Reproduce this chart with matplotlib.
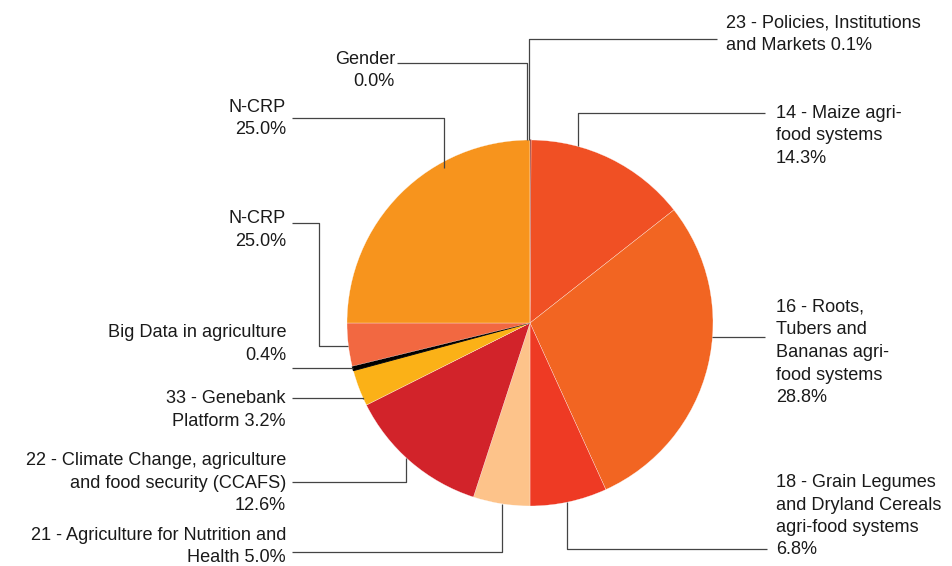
import numpy as np
import matplotlib.pyplot as plt

plt.rcParams['font.family'] = ['Liberation Sans', 'DejaVu Sans']

# slices, clockwise from 12 o'clock
names = ["23 - Policies, Institutions\nand Markets",
         "14 - Maize agri-\nfood systems",
         "16 - Roots,\nTubers and\nBananas agri-\nfood systems",
         "18 - Grain Legumes\nand Dryland Cereals\nagri-food systems",
         "21 - Agriculture for Nutrition and\nHealth",
         "22 - Climate Change, agriculture\nand food security (CCAFS)",
         "33 - Genebank\nPlatform",
         "Big Data in agriculture",
         "N-CRP",
         "N-CRP",
         "Gender"]
shares = [0.1, 14.3, 28.8, 6.8, 5.0, 12.6, 3.2, 0.4, 3.8, 25.0, 0.0]
shown_pct = [0.1, 14.3, 28.8, 6.8, 5.0, 12.6, 3.2, 0.4, 25.0, 25.0, 0.0]
pct_sep = [" ", "\n", "\n", "\n", " ", "\n", " ", "\n", "\n", "\n", "\n"]
colors = ["#8c1d13", "#f05024", "#f26522", "#ee3a24", "#fdc38a", "#d2232a",
          "#fbb117", "#000000", "#f26841", "#f7941d", "#999999"]

# label layout (pixels): side, text x, first baseline, leader y, leader start x,
# connector angle on the pie, radius factor, optional extra bend x
layout = [
    ("L", 726, 27, 39, 717, -90.3, 1.0, None),
    ("L", 776, 118, 113, 765, -74.7, 1.0, None),
    ("L", 776, 312, 337, 765, 4.4, 1.0, None),
    ("L", 776, 487, 549, 767, 78.3, 1.0, None),
    ("R", 286, 540, 552, 292, 98.9, 1.0, None),
    ("R", 286, 465, 482, 292, 132.5, 1.0, None),
    ("R", 286, 403, 398, 292, 155.6, 1.0, None),
    ("R", 286, 337, 368, 292, 165.7, 1.0, None),
    ("R", 286, 223, 223, 292, 172.7, 1.0, 319),
    ("R", 286, 112, 118, 292, -119.0, 0.97, None),
    ("R", 395, 64, 63, 397, -90.9, 1.0, None),
]

cx, cy, r = 530, 323, 183
line_h = 22.5

fig = plt.figure(figsize=(9.52, 5.66), dpi=100)
ax = fig.add_axes([0, 0, 1, 1])

# y axis is inverted, so increasing angle runs clockwise on screen
wedges, _ = ax.pie(shares, colors=colors, startangle=-90, counterclock=True,
                   center=(cx, cy), radius=r,
                   wedgeprops=dict(edgecolor='#ffffff', linewidth=0.2))
# tiny slices: draw their outline in their own colour so they stay visible
for w, v, c in zip(wedges, shares, colors):
    if 0 < v < 1:
        w.set_edgecolor(c)
        w.set_linewidth(0.6)

for name, pct, sep, lay in zip(names, shown_pct, pct_sep, layout):
    side, tx, base, ly, lx, ang, rf, bend = lay
    text = f"{name}{sep}{pct:.1f}%"
    ha = 'left' if side == "L" else 'right'
    for i, line in enumerate(text.split("\n")):
        ax.text(tx, base + i * line_h, line, ha=ha, va='baseline',
                fontsize=13.1, color='#1a1a1a')
    ex = cx + rf * r * np.cos(np.radians(ang))
    ey = cy + rf * r * np.sin(np.radians(ang))
    if bend is None:
        xs, ys = [lx, ex, ex], [ly, ly, ey]
    else:
        xs, ys = [lx, bend, bend, ex], [ly, ly, ey, ey]
    ax.plot(xs, ys, color='#444444', lw=0.9, solid_capstyle='butt')

ax.set_xlim(0, 952)
ax.set_ylim(566, 0)
ax.set_aspect('equal')
ax.axis('off')

fig.savefig("out.png", dpi=100)
